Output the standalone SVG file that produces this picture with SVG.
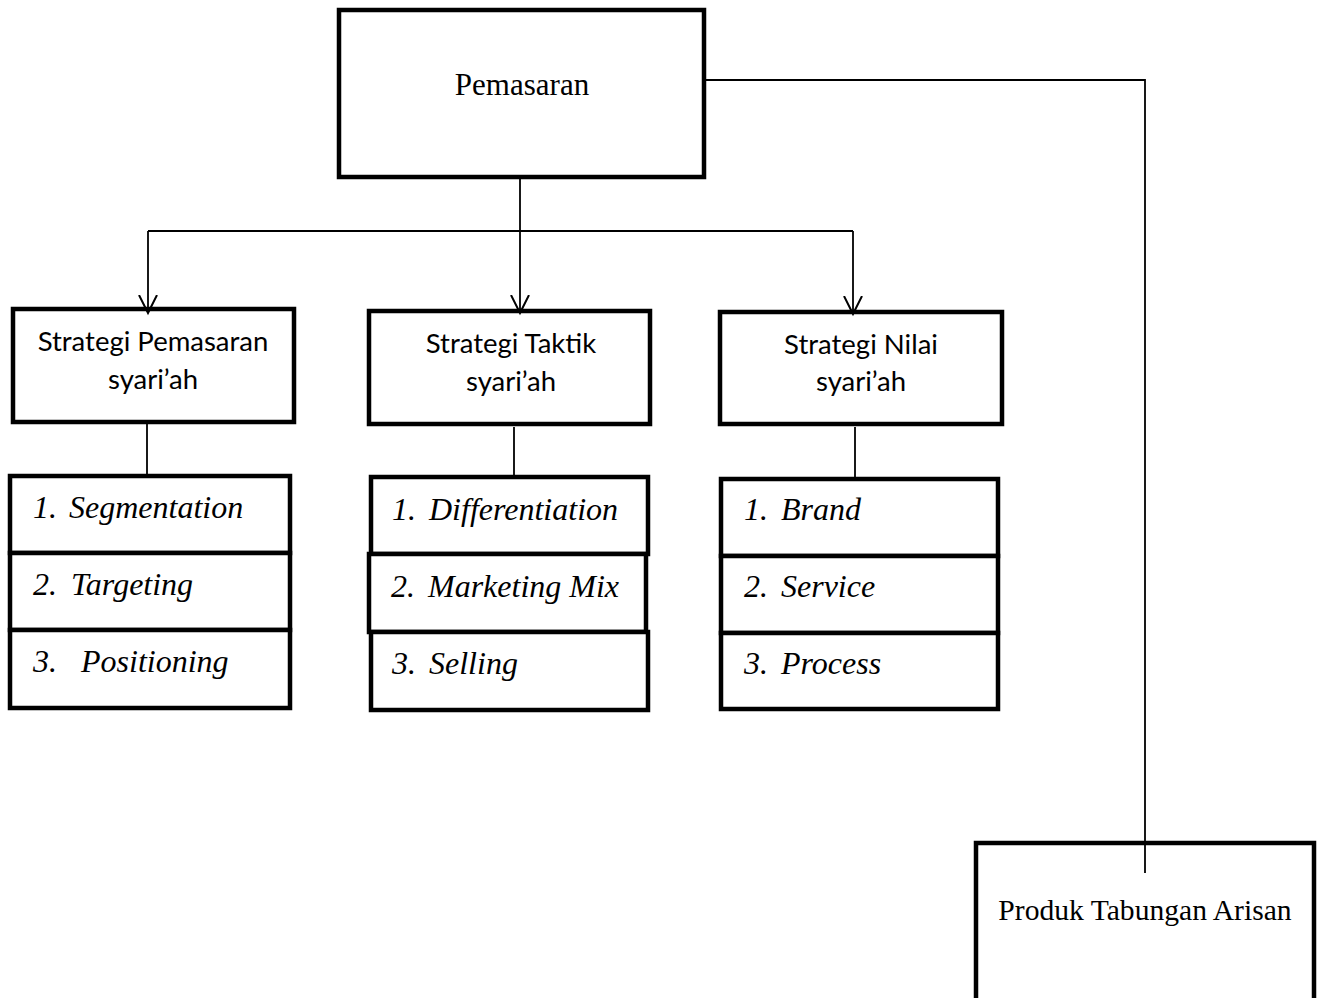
<svg xmlns="http://www.w3.org/2000/svg" width="1320" height="998" viewBox="0 0 1320 998">
<style>
.box{fill:#fff;stroke:#000;stroke-width:4.5}
.ln{fill:none;stroke:#000;stroke-width:1.8}
.tnr{font-family:"Liberation Serif","Times New Roman",serif;fill:#000}
.cal{font-family:Lato,"Open Sans","Liberation Sans",sans-serif;font-size:27.5px;fill:#000;text-anchor:middle}
.it{font-family:"Liberation Serif","Times New Roman",serif;font-style:italic;font-size:32px;fill:#000}
</style>
<defs>
<marker id="v" markerWidth="22" markerHeight="22" refX="18" refY="10" orient="auto" markerUnits="userSpaceOnUse">
<path d="M0,1 L18,10 L0,19" fill="none" stroke="#000" stroke-width="2"/>
</marker>
</defs>
<rect width="1320" height="998" fill="#fff"/>
<g id="pemasaran">
<rect class="box" x="339" y="10" width="365" height="167"/>
<text class="tnr" x="522" y="95" font-size="31" text-anchor="middle">Pemasaran</text>
</g>
<g id="produk">
<rect class="box" x="976" y="843" width="338" height="170"/>
<text class="tnr" x="1145" y="920" font-size="29.6" text-anchor="middle">Produk Tabungan Arisan</text>
</g>
<g id="strategi-pemasaran">
<rect class="box" x="13" y="309" width="281" height="113"/>
<text class="cal" x="153" y="351">Strategi Pemasaran</text>
<text class="cal" x="153" y="389">syari’ah</text>
</g>
<g id="strategi-taktik">
<rect class="box" x="369" y="311" width="281" height="113"/>
<text class="cal" x="511" y="353">Strategi Taktik</text>
<text class="cal" x="511" y="391">syari’ah</text>
</g>
<g id="strategi-nilai">
<rect class="box" x="720" y="312" width="282" height="112"/>
<text class="cal" x="861" y="354">Strategi Nilai</text>
<text class="cal" x="861" y="391">syari’ah</text>
</g>
<g id="list-stp">
<rect class="box" x="10" y="476" width="280" height="77"/>
<rect class="box" x="10" y="553" width="280" height="77"/>
<rect class="box" x="10" y="630" width="280" height="78"/>
<text class="it" x="33" y="518">1.</text><text class="it" x="69" y="518">Segmentation</text>
<text class="it" x="33" y="595">2.</text><text class="it" x="71" y="595">Targeting</text>
<text class="it" x="33" y="672">3.</text><text class="it" x="81" y="672">Positioning</text>
</g>
<g id="list-taktik">
<rect class="box" x="371" y="477" width="277" height="77"/>
<rect class="box" x="369" y="554" width="277" height="78"/>
<rect class="box" x="371" y="632" width="277" height="78"/>
<text class="it" x="392" y="520">1.</text><text class="it" x="429" y="520">Differentiation</text>
<text class="it" x="391" y="597">2.</text><text class="it" x="428" y="597">Marketing Mix</text>
<text class="it" x="392" y="674">3.</text><text class="it" x="429" y="674">Selling</text>
</g>
<g id="list-nilai">
<rect class="box" x="721" y="479" width="277" height="77"/>
<rect class="box" x="721" y="556" width="277" height="77"/>
<rect class="box" x="721" y="633" width="277" height="76"/>
<text class="it" x="744" y="520">1.</text><text class="it" x="781" y="520">Brand</text>
<text class="it" x="744" y="597">2.</text><text class="it" x="781" y="597">Service</text>
<text class="it" x="744" y="674">3.</text><text class="it" x="781" y="674">Process</text>
</g>
<g id="connectors">
<path class="ln" d="M706,80 H1145 V873"/>
<path class="ln" d="M520,179 V313" marker-end="url(#v)"/>
<path class="ln" d="M148,231 H853"/>
<path class="ln" d="M148,231 V313" marker-end="url(#v)"/>
<path class="ln" d="M853,231 V314" marker-end="url(#v)"/>
<path class="ln" d="M147,424 V474"/>
<path class="ln" d="M514,427 V475"/>
<path class="ln" d="M855,427 V477"/>
</g>
</svg>
